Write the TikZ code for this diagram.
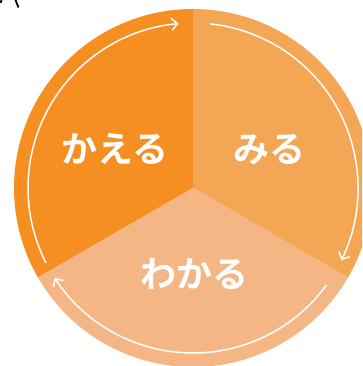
\documentclass[tikz,border=0pt]{standalone}
\usepackage{fontspec}
\newfontfamily\jpfont{Noto Sans CJK JP Bold}
\usetikzlibrary{arrows.meta}
\definecolor{cdark}{HTML}{F58F22}
\definecolor{cmid}{HTML}{F3A654}
\definecolor{clight}{HTML}{F5B686}
\tikzset{
  lbl/.style={text=white, font=\jpfont\fontsize{36}{36}\selectfont, inner sep=0pt},
  cyc/.style={draw=white, line width=1.5pt, -{Straight Barb[length=6pt,width=12pt,line width=1.5pt]}},
  stray/.style={draw=black, line width=1.8pt}
}
\begin{document}
\begin{tikzpicture}[x=1pt,y=1pt]
\useasboundingbox (0,0) rectangle (362,-366);
\begin{scope}
\clip (0,0) rectangle (362,-366);
\coordinate (C) at (193,-188);
\fill[cdark] (C) -- ([shift={(90:179)}]C) arc[start angle=90,end angle=210,radius=179] -- cycle;
\fill[cmid] (C) -- ([shift={(-30:179)}]C) arc[start angle=-30,end angle=90,radius=179] -- cycle;
\fill[clight] (C) -- ([shift={(210:179)}]C) arc[start angle=210,end angle=330,radius=179] -- cycle;
\draw[cyc] ([shift={(207:165)}]C) arc[start angle=207,end angle=95,radius=165];
\draw[cyc] ([shift={(84:165)}]C) arc[start angle=84,end angle=-26,radius=165];
\draw[cyc] ([shift={(-36:165)}]C) arc[start angle=-36,end angle=-147,radius=165];
\end{scope}
\node[lbl] (kaeru) at (115,-149) {かえる};
\node[lbl] (miru) at (269,-150) {みる};
\node[lbl] (wakaru) at (194,-274) {わかる};
\draw[stray] (15.5,0) -- (18.5,-7.5);
\draw[stray] (1.5,0) -- (0.5,-3);
\end{tikzpicture}
\end{document}
